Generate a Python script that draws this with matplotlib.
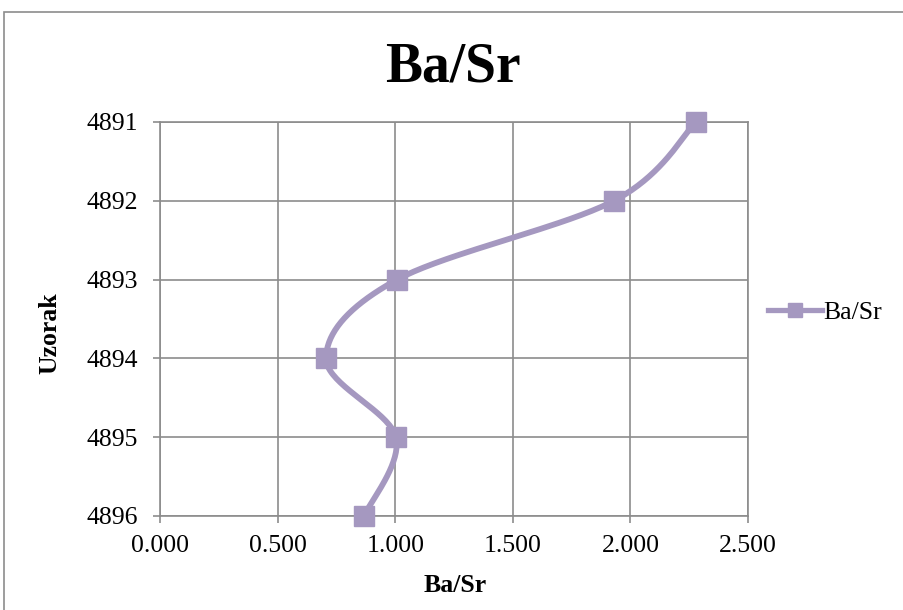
import matplotlib
matplotlib.use("Agg")
from matplotlib import pyplot as plt
from matplotlib.patches import Rectangle
from matplotlib.lines import Line2D
import numpy as np

# values
samples = [4891, 4892, 4893, 4894, 4895, 4896]
ba_sr = [2.279, 1.930, 1.008, 0.706, 1.003, 0.867]
x_ticks = [0.0, 0.5, 1.0, 1.5, 2.0, 2.5]

color = "#A598C0"
plt.rcParams["font.family"] = ["Liberation Serif", "DejaVu Serif"]


def smooth(xs, ys, n=40):
    # Excel-like smoothed line (Catmull-Rom through the points)
    p = np.column_stack([xs, ys]).astype(float)
    p = np.vstack([p[0], p, p[-1]])
    out = []
    t = np.linspace(0, 1, n)[:, None]
    for i in range(1, len(p) - 2):
        p0, p1, p2, p3 = p[i - 1], p[i], p[i + 1], p[i + 2]
        seg = 0.5 * ((2 * p1) + (-p0 + p2) * t
                     + (2 * p0 - 5 * p1 + 4 * p2 - p3) * t ** 2
                     + (-p0 + 3 * p1 - 3 * p2 + p3) * t ** 3)
        out.append(seg)
    out = np.vstack(out)
    return out[:, 0], out[:, 1]


fig = plt.figure(figsize=(9.04, 6.10), dpi=100)
fig.patches.append(Rectangle((4 / 904, -0.1), 1.1, 1.1 - 12 / 610,
                             transform=fig.transFigure, fill=False,
                             edgecolor="#8c8c8c", linewidth=1.2))

ax = fig.add_axes([160 / 904, 1 - 516 / 610, 588 / 904, 394 / 610])

sx, sy = smooth(ba_sr, samples)
ax.plot(sx, sy, color=color, linewidth=4.2, solid_capstyle="round",
        zorder=3, clip_on=False)
ax.plot(ba_sr, samples, linestyle="none", marker="s", markersize=14,
        color=color, zorder=4, clip_on=False)

ax.set_xlim(0, 2.5)
ax.set_ylim(4896, 4891)
ax.set_xticks(x_ticks)
ax.set_xticklabels([f"{v:.3f}" for v in x_ticks])
ax.set_yticks(samples)
ax.grid(True, color="#8c8c8c", linewidth=1.2)
ax.set_axisbelow(True)
for s in ax.spines.values():
    s.set_color("#8c8c8c")
    s.set_linewidth(1.2)
ax.tick_params(axis="both", length=5, width=1.2, color="#8c8c8c",
               labelsize=18.5)
ax.tick_params(axis="x", pad=9)
ax.tick_params(axis="y", pad=11)

fig.text(453 / 904, 1 - 68 / 610, "Ba/Sr", fontsize=40, fontweight="bold",
         ha="center", va="center")
fig.text(455 / 904, 1 - 585 / 610, "Ba/Sr", fontsize=18.5, fontweight="bold",
         ha="center", va="center")
fig.text(50 / 904, 1 - 333 / 610, "Uzorak", fontsize=18.5, fontweight="bold",
         ha="center", va="center", rotation=90)

handle = Line2D([], [], color=color, linewidth=3.8, marker="s",
                markersize=9.5)
fig.legend([handle], ["Ba/Sr"], loc="center left",
           bbox_to_anchor=(745 / 904, 1 - 313 / 610), frameon=False,
           fontsize=18.5, handlelength=2.1, handletextpad=0.05)

fig.savefig("out.png", dpi=100)
